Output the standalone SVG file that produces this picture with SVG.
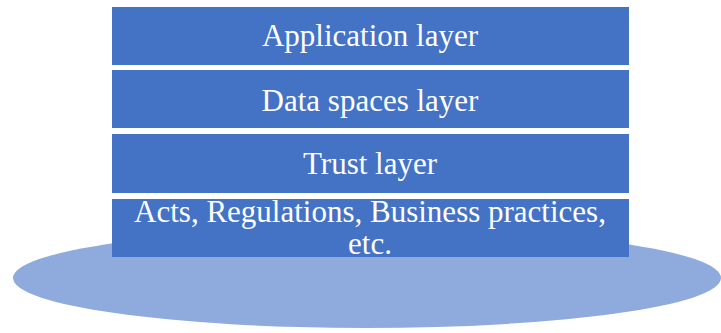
<svg xmlns="http://www.w3.org/2000/svg" width="721" height="333" viewBox="0 0 721 333">
<style>
.layer{fill:#4472C4}
.t{font-family:"Liberation Serif","Times New Roman",serif;font-size:31px;fill:#FFFFFF;text-anchor:middle}
</style>
<rect width="721" height="333" fill="#FFFFFF"/>
<g id="base">
<ellipse cx="367" cy="278" rx="354" ry="50" fill="#8FAADC"/>
</g>
<g id="application">
<rect class="layer" x="112" y="7" width="517" height="58"/>
<text class="t" x="370" y="46">Application layer</text>
</g>
<g id="dataspaces">
<rect class="layer" x="112" y="70" width="517" height="58"/>
<text class="t" x="370" y="111">Data spaces layer</text>
</g>
<g id="trust">
<rect class="layer" x="112" y="134" width="517" height="59"/>
<text class="t" x="370" y="174">Trust layer</text>
</g>
<g id="acts">
<rect class="layer" x="112" y="199" width="517" height="58"/>
<text class="t" x="370" y="222">Acts, Regulations, Business practices,</text>
<text class="t" x="370" y="254">etc.</text>
</g>
<g id="connectors"/>
</svg>
